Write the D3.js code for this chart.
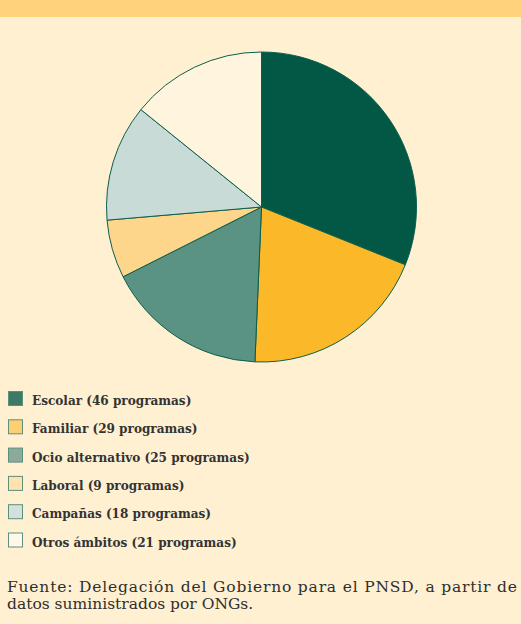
<!DOCTYPE html>
<html>
<head>
<meta charset="utf-8">
<script src="https://cdn.jsdelivr.net/npm/d3@7"></script>
<style>
  body { margin: 0; background: #fff0d2; }
  svg { display: block; }
  .foot { font-family: "DejaVu Serif", "Liberation Serif", serif; }
  .leg { font-family: "DejaVu Serif Condensed", "DejaVu Serif", serif; }
</style>
</head>
<body>
<div id="chart"></div>
<script>
// data
var categories = ["Escolar", "Familiar", "Ocio alternativo", "Laboral", "Campañas", "Otros ámbitos"];
var programas = [46, 29, 25, 9, 18, 21];
var sliceColors = ["#035845", "#fbb829", "#5a9283", "#fed68b", "#c8dbd7", "#fff4dd"];
var legendColors = ["#3d7a66", "#fdcf72", "#8aaa9c", "#ffe2ad", "#d2e1dc", "#fff8e8"];
var footerLines = ["Fuente: Delegación del Gobierno para el PNSD, a partir de",
  "datos suministrados por ONGs."];

var width = 521, height = 624;

var svg = d3.select("#chart")
  .append("svg")
  .attr("width", width)
  .attr("height", height);

// background + cut-off banner at the top
svg.append("rect")
  .attr("width", width)
  .attr("height", height)
  .attr("fill", "#fff0d2");
svg.append("rect")
  .attr("width", width)
  .attr("height", 17)
  .attr("fill", "#ffd27b");

var data = categories.map(function(c, i) {
  return { name: c, value: programas[i], color: sliceColors[i], legend: legendColors[i] };
});

// pie
var pie = d3.pie()
  .sort(null)
  .value(function(d) { return d.value; });

var arc = d3.arc()
  .innerRadius(0)
  .outerRadius(155);

var g = svg.append("g")
  .attr("transform", "translate(261.5,207)");

g.selectAll("path")
  .data(pie(data))
  .enter()
  .append("path")
  .attr("d", arc)
  .attr("fill", function(d) { return d.data.color; })
  .attr("stroke", "#0b5e4a")
  .attr("stroke-width", 1);

// legend
var legend = svg.append("g")
  .attr("transform", "translate(0,391)");

var rows = legend.selectAll("g")
  .data(data)
  .enter()
  .append("g")
  .attr("transform", function(d, i) { return "translate(0," + (i * 28.3) + ")"; });

rows.append("rect")
  .attr("x", 8.5)
  .attr("y", 0.5)
  .attr("width", 14)
  .attr("height", 14)
  .attr("fill", function(d) { return d.legend; })
  .attr("stroke", "#5e8e7c")
  .attr("stroke-width", 1);

rows.append("text")
  .attr("class", "leg")
  .attr("x", 32)
  .attr("y", 14)
  .attr("font-size", 13.4)
  .attr("font-weight", "bold")
  .attr("fill", "#333")
  .text(function(d) { return d.name + " (" + d.value + " programas)"; });

// footer, one text block with two lines
var foot = svg.append("text")
  .attr("class", "foot")
  .attr("font-size", 15.5)
  .attr("fill", "#2e2e2e");

foot.selectAll("tspan")
  .data(footerLines)
  .enter()
  .append("tspan")
  .attr("x", 7)
  .attr("y", function(d, i) { return 591.5 + i * 17.5; })
  .attr("textLength", function(d, i) { return i == 0 ? 510 : null; })
  .attr("lengthAdjust", "spacing")
  .text(function(d) { return d; });
</script>
</body>
</html>
